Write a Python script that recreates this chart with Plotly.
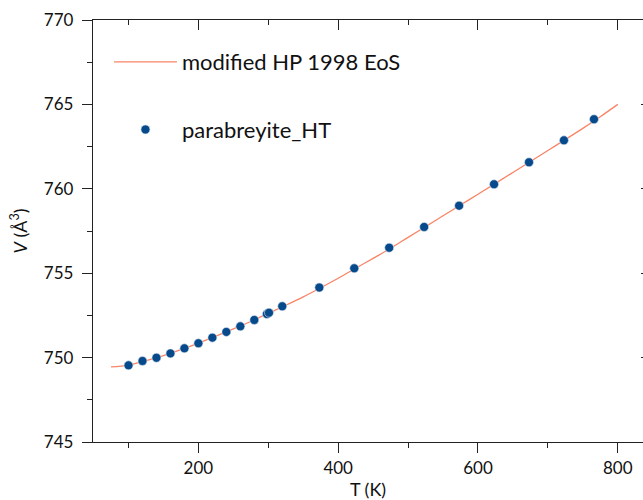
import plotly.graph_objects as go

# Measured data (parabreyite_HT)
T_obs = [100, 120, 140, 160, 180, 200, 220, 240, 260, 280, 298, 301, 320,
         373, 423, 473, 523, 573, 623, 673, 723, 766]
V_obs = [749.54, 749.80, 749.99, 750.25, 750.55, 750.85, 751.18, 751.52, 751.85,
         752.23, 752.58, 752.66, 753.04, 754.15, 755.29, 756.51, 757.74, 759.00,
         760.27, 761.57, 762.87, 764.12]

# Fitted curve (modified HP 1998 EoS)
T_fit = [75, 100, 125, 150, 175, 200, 225, 250, 275, 300, 325, 350, 375, 400,
         425, 450, 475, 500, 525, 550, 575, 600, 625, 650, 675, 700, 725, 750,
         775, 800]
V_fit = [749.45, 749.56, 749.82, 750.11, 750.47, 750.86, 751.27, 751.70, 752.14,
         752.62, 753.10, 753.60, 754.14, 754.70, 755.29, 755.88, 756.48, 757.12,
         757.76, 758.40, 759.04, 759.68, 760.32, 760.97, 761.62, 762.27, 762.92,
         763.58, 764.27, 765.00]

FONT = "Lato"
AX = "#222222"
XR = [49.2, 836.1]
YR = [745, 770]

fig = go.Figure()
fig.add_trace(go.Scatter(
    x=T_fit, y=V_fit, mode="lines", name="modified HP 1998 EoS",
    line=dict(color="#FA8466", width=1.3, shape="spline"),
    legendgroup="a",
))
fig.add_trace(go.Scatter(
    x=T_obs, y=V_obs, mode="markers", name="parabreyite_HT",
    marker=dict(color="#064A8C", size=9, line=dict(width=0.6, color="#dfe8f2")),
    legendgroup="b",
))
# helper trace for mirrored axes
fig.add_trace(go.Scatter(x=[], y=[], xaxis="x2", yaxis="y2", showlegend=False))

fig.update_layout(
    width=643, height=500,
    margin=dict(l=93, r=0, t=20, b=58, autoexpand=False),
    paper_bgcolor="white", plot_bgcolor="white",
    font=dict(family=FONT, size=17, color="#111111"),
    showlegend=True,
    legend=dict(
        x=0.029, y=0.95, xanchor="left", yanchor="top",
        font=dict(family=FONT, size=22, color="#111111"),
        bgcolor="rgba(0,0,0,0)", itemwidth=63, tracegroupgap=36,
    ),
    xaxis=dict(
        range=XR, showgrid=False, zeroline=False, automargin=False,
        showline=True, linecolor=AX, linewidth=1.3,
        ticks="outside", ticklen=10, tickwidth=1.3, tickcolor=AX,
        tick0=0, dtick=200,
        minor=dict(ticks="outside", ticklen=5, tickwidth=1.3, tickcolor=AX, dtick=100, tick0=0),
        tickfont=dict(family=FONT, size=17),
        title=dict(text="T (K)", font=dict(family=FONT, size=18), standoff=2),
    ),
    yaxis=dict(
        range=YR, showgrid=False, zeroline=False, automargin=False,
        showline=True, linecolor=AX, linewidth=1.3,
        ticks="outside", ticklen=10, tickwidth=1.3, tickcolor=AX,
        tick0=745, dtick=5, ticklabelstandoff=5,
        minor=dict(ticks="outside", ticklen=5, tickwidth=1.3, tickcolor=AX, dtick=2.5, tick0=745),
        tickfont=dict(family=FONT, size=17),
        title=dict(text="<i>V</i> (Å<sup>3</sup>)", font=dict(family=FONT, size=18), standoff=11),
    ),
    xaxis2=dict(
        range=XR, overlaying="x", side="top", anchor="y2", automargin=False,
        showgrid=False, zeroline=False, showticklabels=False,
        showline=True, linecolor=AX, linewidth=1.3,
        ticks="inside", ticklen=10, tickwidth=1.3, tickcolor=AX,
        tick0=0, dtick=200,
        minor=dict(ticks="inside", ticklen=5, tickwidth=1.3, tickcolor=AX, dtick=100, tick0=0),
    ),
    yaxis2=dict(
        range=YR, overlaying="y", side="right", anchor="x2", automargin=False,
        showgrid=False, zeroline=False, showticklabels=False,
        showline=False,
        ticks="inside", ticklen=2, tickwidth=1.3, tickcolor=AX,
        tick0=745, dtick=5,
    ),
)

fig.write_html("out.html", config={"displayModeBar": False},
               post_script="document.body.style.margin='0';")
